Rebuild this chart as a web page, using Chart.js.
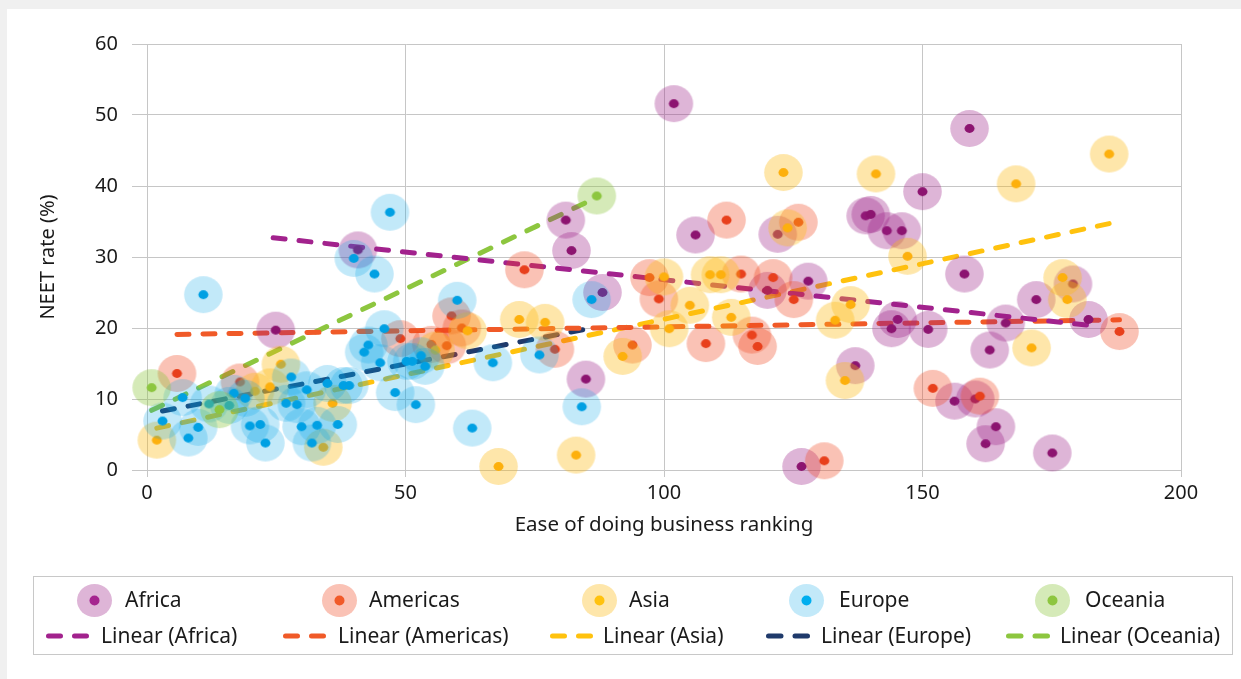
<!DOCTYPE html>
<html>
<head>
<meta charset="utf-8">
<script src="https://cdn.jsdelivr.net/npm/chart.js@4.4.1/dist/chart.umd.min.js"></script>
<style>
html,body{margin:0;padding:0;width:1241px;height:679px;overflow:hidden;background:#f0f0f0;font-family:"Noto Sans",sans-serif;}
#card{position:absolute;left:7px;top:9px;width:1234px;height:670px;background:#fff;}
#wrap{position:absolute;left:0;top:0;width:1241px;height:679px;}
#legend{position:absolute;left:33px;top:576px;width:1200px;height:79px;border:1px solid #c8c8c8;box-sizing:border-box;}
.lt{position:absolute;font-size:21px;line-height:24px;color:#1a1a1a;white-space:nowrap;}
.lm{position:absolute;}
</style>
</head>
<body>
<div id="card"></div>
<div id="wrap"><canvas id="c" width="1241" height="679"></canvas></div>
<div id="legend"></div>
<script>
// ---------- DATA ----------
const regions = ['Africa', 'Americas', 'Asia', 'Europe', 'Oceania'];

const africaX = [24.9, 40.8, 81.0, 82.1, 84.9, 88.1, 101.9, 106.1, 120.0, 122.0, 126.6, 127.9, 137.0, 139.0, 140.0, 143.1, 146.0, 145.2, 144.0, 150.0, 151.1, 156.2, 158.1, 159.1, 160.2, 162.2, 163.0, 164.2, 166.1, 172.0, 175.1, 179.1, 182.1];
const africaY = [19.7, 31.0, 35.2, 30.9, 12.8, 25.0, 51.6, 33.1, 25.3, 33.2, 0.5, 26.6, 14.7, 35.8, 36.0, 33.7, 33.7, 21.2, 19.9, 39.2, 19.8, 9.7, 27.6, 48.1, 10.0, 3.7, 16.9, 6.1, 20.7, 24.0, 2.4, 26.2, 21.2];

const americasX = [5.8, 18.0, 49.0, 55.0, 58.0, 58.9, 60.9, 73.0, 78.9, 93.9, 97.2, 99.0, 108.1, 112.1, 114.9, 117.0, 118.1, 121.1, 125.1, 126.0, 131.0, 152.0, 161.1, 188.1];
const americasY = [13.6, 12.4, 18.5, 17.7, 17.5, 21.7, 20.0, 28.2, 17.0, 17.6, 27.1, 24.1, 17.8, 35.2, 27.6, 19.0, 17.4, 27.1, 24.0, 34.9, 1.3, 11.5, 10.4, 19.5];

const asiaX = [1.9, 20.9, 23.8, 25.9, 34.1, 35.9, 55.8, 62.0, 68.0, 72.0, 77.0, 83.0, 92.0, 100.0, 101.0, 105.0, 108.9, 111.0, 113.0, 123.1, 123.9, 133.1, 135.0, 136.1, 141.0, 147.1, 168.1, 171.1, 177.1, 178.0, 186.1];
const asiaY = [4.2, 11.1, 11.7, 14.9, 3.2, 9.4, 16.9, 19.6, 0.5, 21.2, 20.8, 2.1, 16.0, 27.2, 19.9, 23.2, 27.5, 27.5, 21.5, 41.9, 34.1, 21.1, 12.6, 23.3, 41.7, 30.1, 40.3, 17.2, 27.1, 24.0, 44.5];

const europeX = [3.0, 6.9, 8.0, 9.9, 10.9, 12.0, 15.9, 16.8, 19.0, 19.9, 21.9, 22.9, 27.9, 26.9, 29.0, 30.9, 29.9, 32.9, 31.9, 34.9, 36.9, 38.0, 39.1, 40.0, 44.0, 47.0, 45.9, 42.8, 42.0, 45.1, 48.0, 52.0, 50.2, 51.3, 53.0, 53.8, 60.0, 62.9, 66.9, 75.9, 84.1, 86.0];
const europeY = [6.9, 10.2, 4.5, 6.0, 24.7, 9.3, 9.1, 10.8, 10.1, 6.2, 6.4, 3.8, 13.1, 9.4, 9.2, 11.3, 6.1, 6.3, 3.8, 12.2, 6.4, 11.9, 11.9, 29.8, 27.6, 36.3, 19.9, 17.6, 16.6, 15.1, 10.9, 9.2, 15.3, 15.3, 16.1, 14.6, 23.9, 5.9, 15.1, 16.2, 8.9, 24.0];

const oceaniaX = [0.9, 14.0, 87.0];
const oceaniaY = [11.6, 8.5, 38.6];

// linear trend line end points
const trendAfricaX = [24.4, 182.1];   const trendAfricaY = [32.7, 20.4];
const trendAmericasX = [5.8, 188.1];  const trendAmericasY = [19.1, 21.15];
const trendAsiaX = [1.9, 186.1];      const trendAsiaY = [5.9, 34.7];
const trendEuropeX = [3.0, 86.0];     const trendEuropeY = [8.3, 20.0];
const trendOceaniaX = [0.9, 87.0];    const trendOceaniaY = [8.4, 38.4];

const xTicks = [0, 50, 100, 150, 200];
const yTicks = [0, 10, 20, 30, 40, 50, 60];
const xTitle = 'Ease of doing business ranking';
const yTitle = 'NEET rate (%)';

// ---------- STYLES ----------
const outerCol = ['rgba(155,31,134,0.33)', 'rgba(240,70,30,0.33)', 'rgba(253,185,19,0.36)', 'rgba(0,161,228,0.24)', 'rgba(141,198,63,0.37)'];
const innerCol = ['#8c1470', '#e8401c', '#fdb00d', '#00a0e3', '#8dc63f'];
const legendInner = ['#a5258f', '#f15a29', '#ffc20e', '#00aeef', '#8dc63f'];
const trendCol = ['#a2228d', '#f05a28', '#ffc20e', '#1f3a6b', '#8dc63f'];
const FONT = '"Noto Sans", sans-serif';

function makeMarker(outer, inner, rx, ry, irx, iry) {
  const c = document.createElement('canvas');
  const w = Math.ceil(rx * 2) + 2, h = Math.ceil(ry * 2) + 2;
  c.width = w; c.height = h;
  const g = c.getContext('2d');
  g.fillStyle = outer; g.beginPath(); g.ellipse(w / 2, h / 2, rx, ry, 0, 0, Math.PI * 2); g.fill();
  g.fillStyle = inner; g.beginPath(); g.ellipse(w / 2, h / 2, irx, iry, 0, 0, Math.PI * 2); g.fill();
  return c;
}

const ptsX = [africaX, americasX, asiaX, europeX, oceaniaX];
const ptsY = [africaY, americasY, asiaY, europeY, oceaniaY];
const trX = [trendAfricaX, trendAmericasX, trendAsiaX, trendEuropeX, trendOceaniaX];
const trY = [trendAfricaY, trendAmericasY, trendAsiaY, trendEuropeY, trendOceaniaY];

const datasets = [];
regions.forEach((r, i) => {
  datasets.push({
    type: 'scatter',
    label: r,
    data: ptsX[i].map((x, k) => ({ x: x, y: ptsY[i][k] })),
    pointStyle: makeMarker(outerCol[i], innerCol[i], 19.3, 18.4, 5, 4.4),
    pointRadius: 19,
    order: 5 - i,
    clip: false
  });
});
regions.forEach((r, i) => {
  datasets.push({
    type: 'line',
    label: 'Linear (' + r + ')',
    data: trX[i].map((x, k) => ({ x: x, y: trY[i][k] })),
    borderColor: trendCol[i],
    borderWidth: 5,
    borderDash: [12, 14],
    borderCapStyle: 'round',
    pointRadius: 0,
    fill: false,
    showLine: true,
    order: 20,
    clip: false
  });
});

const gridCol = '#c6c6c6';
new Chart(document.getElementById('c'), {
  type: 'scatter',
  data: { datasets: datasets },
  options: {
    responsive: false,
    animation: false,
    events: [],
    devicePixelRatio: 1,
    layout: { padding: { left: 0, top: 44, right: 60, bottom: 142 } },
    plugins: { legend: { display: false }, tooltip: { enabled: false } },
    scales: {
      x: {
        type: 'linear', min: 0, max: 200,
        afterBuildTicks: s => { s.ticks = xTicks.map(v => ({ value: v })); },
        afterFit: s => { s.height = 67; },
        ticks: { color: '#1a1a1a', font: { family: FONT, size: 20 }, padding: 4 },
        grid: { color: gridCol, lineWidth: 1, tickLength: 7 },
        border: { color: gridCol },
        title: { display: true, text: xTitle, color: '#1a1a1a', font: { family: FONT, size: 20.5 }, padding: 0 }
      },
      y: {
        type: 'linear', min: 0, max: 60,
        afterBuildTicks: s => { s.ticks = yTicks.map(v => ({ value: v })); },
        afterFit: s => { s.width = 147; },
        ticks: { color: '#1a1a1a', font: { family: FONT, size: 20 }, padding: 14 },
        grid: { color: gridCol, lineWidth: 1, tickLength: 15 },
        border: { color: gridCol },
        title: { display: true, text: yTitle, color: '#1a1a1a', font: { family: FONT, size: 20 }, padding: { top: 36, bottom: 0 } }
      }
    }
  }
});

// ---------- HTML LEGEND ----------
const legend = document.getElementById('legend');
const LX = 33, LY = 576;
const markerCX = [94, 339, 599, 806, 1052];
const markerTX = [125, 369, 629, 839, 1085];
const lineX1 = [46, 283, 550, 766, 1006];
const lineX2 = [89, 326, 593, 810, 1050];
const lineTX = [101, 338, 603, 821, 1060];
const row1 = 600, row2 = 636;

regions.forEach((r, i) => {
  const m = makeMarker(outerCol[i], legendInner[i], 17.5, 16.5, 5, 5);
  m.className = 'lm';
  m.style.left = (markerCX[i] - m.width / 2 - LX - 1) + 'px';
  m.style.top = (row1 - m.height / 2 - LY - 1) + 'px';
  legend.appendChild(m);
  const t = document.createElement('div');
  t.className = 'lt'; t.textContent = r;
  t.style.left = (markerTX[i] - LX - 1) + 'px';
  t.style.top = (row1 - 13 - LY - 1) + 'px';
  legend.appendChild(t);

  const w = lineX2[i] - lineX1[i];
  const svgNS = 'http://www.w3.org/2000/svg';
  const svg = document.createElementNS(svgNS, 'svg');
  svg.setAttribute('width', w); svg.setAttribute('height', 10);
  svg.style.position = 'absolute';
  svg.style.left = (lineX1[i] - LX - 1) + 'px';
  svg.style.top = (row2 - 5 - LY - 1) + 'px';
  const ln = document.createElementNS(svgNS, 'line');
  ln.setAttribute('x1', 2.5); ln.setAttribute('x2', w - 2.5);
  ln.setAttribute('y1', 5); ln.setAttribute('y2', 5);
  ln.setAttribute('stroke', trendCol[i]); ln.setAttribute('stroke-width', 5);
  ln.setAttribute('stroke-linecap', 'round');
  const seg = (w - 5 - 9 - 5) / 2;
  ln.setAttribute('stroke-dasharray', seg + ' ' + (9 + 5));
  svg.appendChild(ln);
  legend.appendChild(svg);
  const t2 = document.createElement('div');
  t2.className = 'lt'; t2.textContent = 'Linear (' + r + ')';
  t2.style.left = (lineTX[i] - LX - 1) + 'px';
  t2.style.top = (row2 - 13 - LY - 1) + 'px';
  legend.appendChild(t2);
});
</script>
</body>
</html>
